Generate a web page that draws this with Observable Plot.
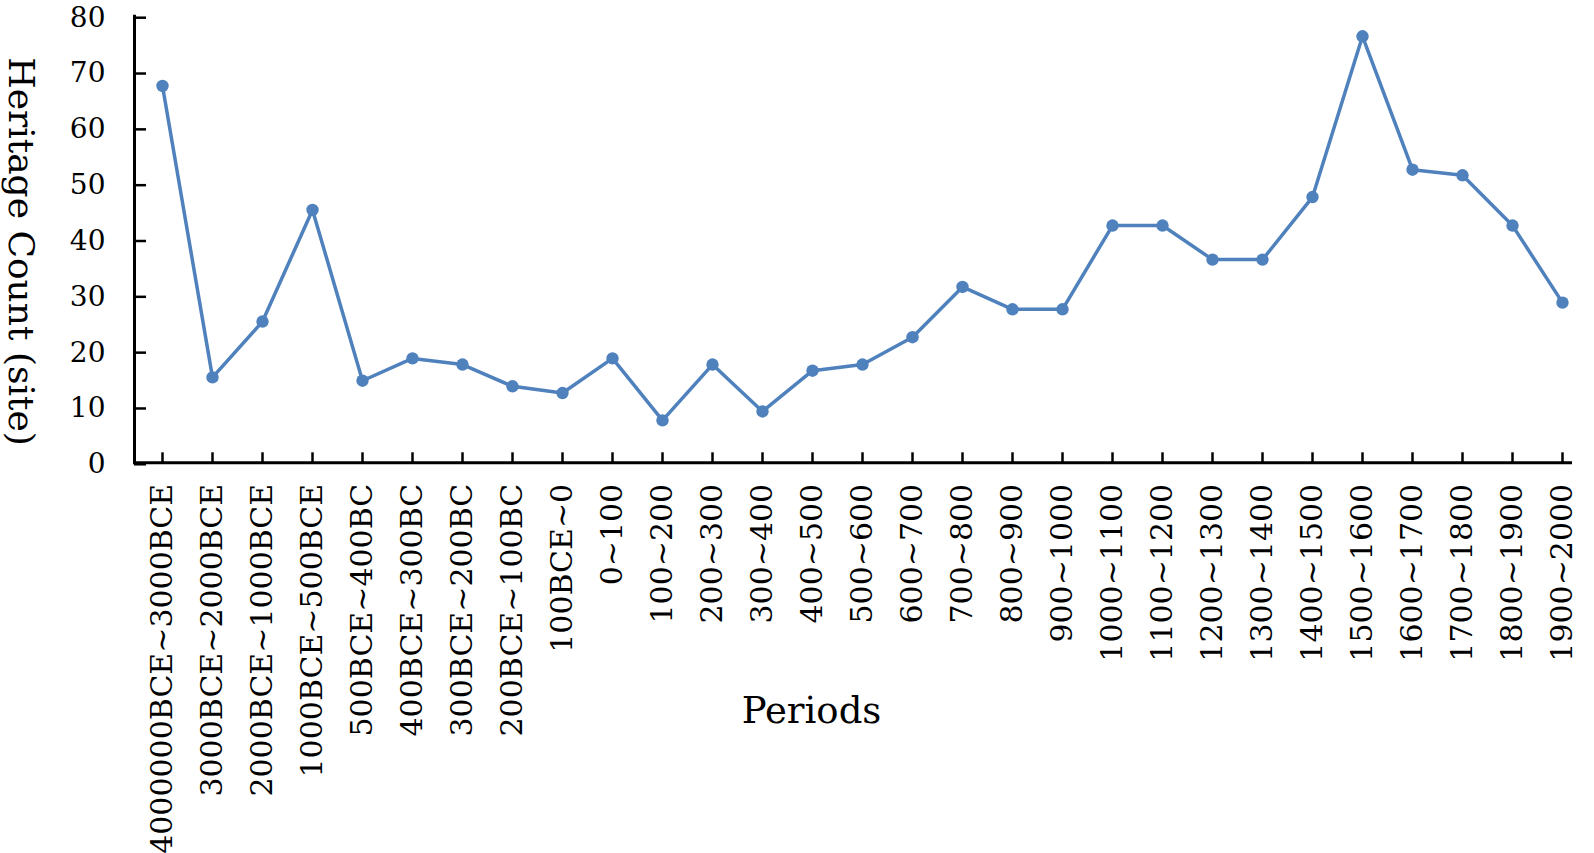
<!DOCTYPE html>
<html>
<head>
<meta charset="utf-8">
<script src="https://cdn.jsdelivr.net/npm/d3@7"></script>
<script src="https://cdn.jsdelivr.net/npm/@observablehq/plot@0.6"></script>
<style>
  html, body { margin: 0; padding: 0; background: #ffffff; }
  #chart svg { display: block; overflow: visible; }
</style>
</head>
<body>
<div id="chart"></div>
<script>
const periods = [
  "4000000BCE~3000BCE", "3000BCE~2000BCE", "2000BCE~1000BCE", "1000BCE~500BCE",
  "500BCE~400BC", "400BCE~300BC", "300BCE~200BC", "200BCE~100BC", "100BCE~0",
  "0~100", "100~200", "200~300", "300~400", "400~500", "500~600", "600~700",
  "700~800", "800~900", "900~1000", "1000~1100", "1100~1200", "1200~1300",
  "1300~1400", "1400~1500", "1500~1600", "1600~1700", "1700~1800", "1800~1900",
  "1900~2000"
];
const counts = [
  67.5, 15.3, 25.3, 45.3, 14.7, 18.7, 17.6, 13.7, 12.5,
  18.7, 7.6, 17.6, 9.2, 16.5, 17.6, 22.5, 31.5, 27.5, 27.5,
  42.5, 42.5, 36.4, 36.4, 47.6, 76.4, 52.5, 51.5, 42.5, 28.7
];
const yTicks = [0, 10, 20, 30, 40, 50, 60, 70, 80];
const xTitle = "Periods";
const yTitle = "Heritage Count (site)";

const data = periods.map((p, i) => ({period: p, count: counts[i]}));
const blue = "#4f81bd";
const font = "'DejaVu Serif', serif";

const chart = Plot.plot({
  width: 1594,
  height: 853,
  marginLeft: 134,
  marginRight: 22,
  marginTop: 15.7,
  marginBottom: 390.7,
  style: {fontFamily: font, color: "#000", background: "#fff", overflow: "visible"},
  x: {type: "point", domain: periods, range: [157.6, 1565.5], padding: 0, label: null},
  y: {domain: [0, 80], label: null},
  marks: [
    Plot.frame({anchor: "left", stroke: "#000", strokeWidth: 3}),
    Plot.ruleY([0], {stroke: "#000", strokeWidth: 3}),
    Plot.axisY({ticks: yTicks, tickSize: -12, tickPadding: 41, strokeWidth: 2.5,
                fontSize: 28, dy: 1.5, label: null, fill: "#000"}),
    Plot.axisX({tickSize: -10, tickPadding: 31, tickRotate: -90, strokeWidth: 2.5,
                fontSize: 30, label: null, fill: "#000"}),
    Plot.line(data, {x: "period", y: "count", stroke: blue, strokeWidth: 3.5}),
    Plot.dot(data, {x: "period", y: "count", r: 6.2, fill: blue}),
    Plot.text([xTitle], {frameAnchor: "bottom", dx: -42, dy: 260, fontSize: 37,
                         fill: "#000", textAnchor: "middle"}),
    Plot.text([yTitle], {frameAnchor: "left", rotate: 90, dx: -114, dy: 12,
                         fontSize: 36, fill: "#000", textAnchor: "middle"})
  ]
});
document.getElementById("chart").appendChild(chart);
</script>
</body>
</html>
